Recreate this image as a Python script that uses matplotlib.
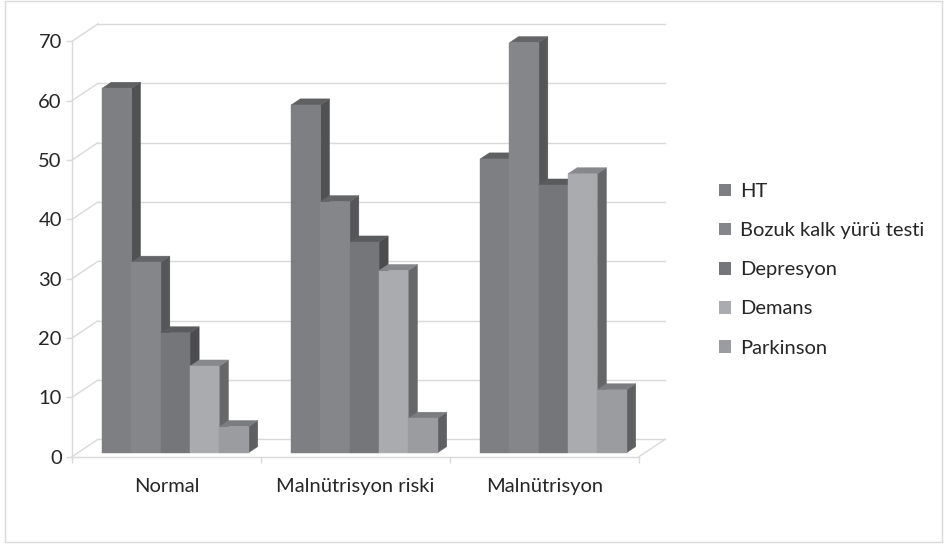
import matplotlib
matplotlib.use("Agg")
import matplotlib.pyplot as plt
from matplotlib.patches import Polygon, Rectangle, Patch

plt.rcParams['font.family'] = ['Lato', 'DejaVu Sans']

# --- data -------------------------------------------------------------
categories = ["Normal", "Malnütrisyon riski", "Malnütrisyon"]
series_names = ["HT", "Bozuk kalk yürü testi", "Depresyon", "Demans", "Parkinson"]
ht = [61.4, 58.6, 49.5]
bozuk = [32.1, 42.3, 69.1]
depresyon = [20.2, 35.5, 45.1]
demans = [14.6, 30.7, 47.0]
parkinson = [4.4, 5.8, 10.6]
y_ticks = [0, 10, 20, 30, 40, 50, 60, 70]

series_values = [ht, bozuk, depresyon, demans, parkinson]

# face colours per series: (front, top, side)
front_colors = ["#7e7f83", "#85868a", "#75767a", "#aaabae", "#9b9c9f"]
top_colors = ["#5f6062", "#646567", "#5a5b5d", "#87888b", "#7b7c7f"]
side_colors = ["#505153", "#555658", "#4b4c4e", "#666769", "#5f6062"]

grid_color = "#d9d9d9"
text_color = "#262626"
font_size = 14.5

# --- figure -----------------------------------------------------------
W, H = 946, 545
fig = plt.figure(figsize=(W / 100, H / 100), dpi=100)

# chart-area border
fig.patches.append(Rectangle((4.5 / W, 3.5 / H), 937.5 / W, 540.5 / H,
                             transform=fig.transFigure, fill=False,
                             edgecolor=grid_color, linewidth=1.0))

ax_left, ax_right = 72, 639
ax_bottom, ax_top = 456.7, 41.3
ax = fig.add_axes([ax_left / W, (H - ax_bottom) / H,
                   (ax_right - ax_left) / W, (ax_bottom - ax_top) / H])
ax.set_xlim(0, 3)
ax.set_ylim(0, 70)
ax.patch.set_visible(False)

# depth of the 3-D box in data units
wall_dx = 26 / 189.0
wall_dy = 17.4 / ((ax_bottom - ax_top) / 70.0)

# back wall gridlines and side-wall diagonals
for v in y_ticks:
    ax.plot([wall_dx, 3 + wall_dx], [v + wall_dy, v + wall_dy],
            color=grid_color, lw=1.0, clip_on=False, zorder=1)
    ax.plot([0, wall_dx], [v, v + wall_dy],
            color=grid_color, lw=1.0, clip_on=False, zorder=1)
# floor right edge
ax.plot([3, 3 + wall_dx], [0, wall_dy], color=grid_color, lw=1.0,
        clip_on=False, zorder=1)

# bars
n = len(series_names)
bar_w = 0.155
group_off = 0.128
front_f = 0.23
depth_f = 0.35
fx, fy = front_f * wall_dx, front_f * wall_dy
dx, dy = depth_f * wall_dx, depth_f * wall_dy

z = 2
for g in range(len(categories)):
    for i in range(n):
        v = series_values[i][g]
        x0 = g + group_off + i * bar_w + fx
        x1 = x0 + bar_w
        y0 = fy
        y1 = fy + v
        side = Polygon([(x1, y0), (x1 + dx, y0 + dy), (x1 + dx, y1 + dy), (x1, y1)],
                       closed=True, facecolor=side_colors[i], edgecolor=side_colors[i],
                       lw=0.3, clip_on=False, zorder=z)
        top = Polygon([(x0, y1), (x1, y1), (x1 + dx, y1 + dy), (x0 + dx, y1 + dy)],
                      closed=True, facecolor=top_colors[i], edgecolor=top_colors[i],
                      lw=0.3, clip_on=False, zorder=z)
        front = Polygon([(x0, y0), (x1, y0), (x1, y1), (x0, y1)],
                        closed=True, facecolor=front_colors[i], edgecolor=front_colors[i],
                        lw=0.3, clip_on=False, zorder=z + 0.5)
        ax.add_patch(side)
        ax.add_patch(top)
        ax.add_patch(front)
        z += 1

# axes styling
for s in ["top", "right"]:
    ax.spines[s].set_visible(False)
for s in ["left", "bottom"]:
    ax.spines[s].set_color(grid_color)
    ax.spines[s].set_linewidth(1.0)

ax.set_yticks(y_ticks)
ax.set_yticklabels([str(t) for t in y_ticks])
ax.tick_params(axis="y", length=4.3, width=1.0, color=grid_color,
               labelsize=font_size, labelcolor=text_color, pad=3)

ax.set_xticks([0, 1, 2, 3])
ax.set_xticklabels([])
ax.set_xticks([0.5, 1.5, 2.5], minor=True)
ax.set_xticklabels(categories, minor=True)
ax.tick_params(axis="x", which="major", length=4.3, width=1.0, color=grid_color)
ax.tick_params(axis="x", which="minor", length=0, labelsize=font_size,
               labelcolor=text_color, pad=15)

# legend
handles = [Patch(facecolor=front_colors[i], edgecolor="none") for i in range(n)]
leg = fig.legend(handles, series_names, loc="upper left",
                 bbox_to_anchor=(719 / W, 1 - 183 / H), frameon=False,
                 fontsize=font_size, labelcolor=text_color, handlelength=0.6,
                 handleheight=0.6, handletextpad=0.45, labelspacing=1.1,
                 borderpad=0, borderaxespad=0)

fig.savefig("out.png", dpi=100)
